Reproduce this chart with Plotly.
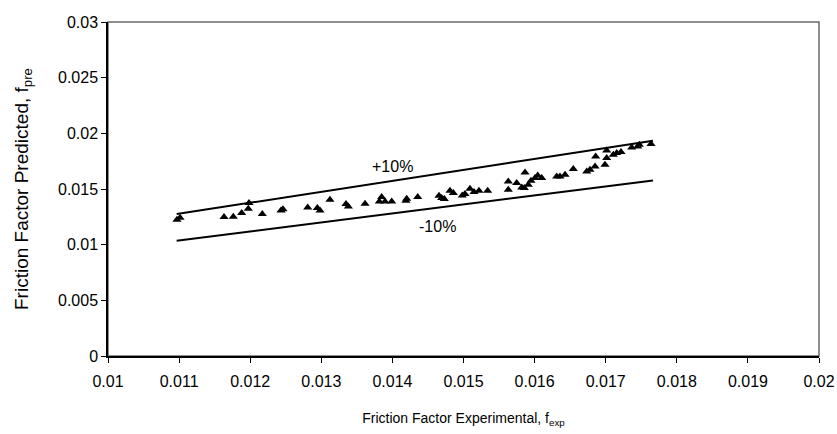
import plotly.graph_objects as go

# Measured vs. predicted friction factor
f_exp = [
    0.010970, 0.011013, 0.011632, 0.011762, 0.011880, 0.011973, 0.011983,
    0.012170, 0.012433, 0.012461, 0.012809, 0.012944, 0.012982, 0.013122,
    0.013347, 0.013380, 0.013615, 0.013816, 0.013849, 0.013896, 0.013990,
    0.014191, 0.014201, 0.014356, 0.014655, 0.014693, 0.014730, 0.014810,
    0.014857, 0.014983, 0.015021, 0.015091, 0.015148, 0.015218, 0.015340,
    0.015630, 0.015630, 0.015748, 0.015819, 0.015865, 0.015855, 0.015911,
    0.016006, 0.016044, 0.016100, 0.015949, 0.016311, 0.016357, 0.016428,
    0.016544, 0.016733, 0.016779, 0.016850, 0.016859, 0.016990, 0.017014,
    0.017014, 0.017107, 0.017155, 0.017215, 0.017366, 0.017450, 0.017473,
    0.017637,
]
f_pre = [
    0.012242, 0.012422, 0.012484, 0.012511, 0.012843, 0.013229, 0.013740,
    0.012753, 0.013076, 0.013184, 0.013345, 0.013291, 0.013076, 0.014036,
    0.013650, 0.013435, 0.013677, 0.013883, 0.014278, 0.013883, 0.013883,
    0.013946, 0.014126, 0.014278, 0.014395, 0.014188, 0.014099, 0.014843,
    0.014637, 0.014422, 0.014547, 0.015022, 0.014726, 0.014843, 0.014843,
    0.015677, 0.014933, 0.015534, 0.015139, 0.016484, 0.015085, 0.015381,
    0.015982, 0.016215, 0.015982, 0.015740, 0.016126, 0.016126, 0.016278,
    0.016789, 0.016574, 0.016726, 0.017022, 0.017919, 0.017175, 0.017776,
    0.018457, 0.018072, 0.018224, 0.018314, 0.018726, 0.018816, 0.018969,
    0.019031,
]

# Error band lines (+10% / -10%)
band_x = [0.010966, 0.017665]
band_upper = [0.012753, 0.019327]
band_lower = [0.010359, 0.015767]

x_ticks = [0.01, 0.011, 0.012, 0.013, 0.014, 0.015, 0.016, 0.017, 0.018, 0.019, 0.02]
x_tick_text = ["0.01", "0.011", "0.012", "0.013", "0.014", "0.015",
               "0.016", "0.017", "0.018", "0.019", "0.02"]
y_ticks = [0, 0.005, 0.01, 0.015, 0.02, 0.025, 0.03]
y_tick_text = ["0", "0.005", "0.01", "0.015", "0.02", "0.025", "0.03"]

FONT = "Liberation Sans, Arial, sans-serif"

fig = go.Figure()
fig.add_trace(go.Scatter(x=band_x, y=band_upper, mode="lines",
                         line=dict(color="black", width=2), showlegend=False))
fig.add_trace(go.Scatter(x=band_x, y=band_lower, mode="lines",
                         line=dict(color="black", width=2), showlegend=False))
fig.add_trace(go.Scatter(x=f_exp, y=f_pre, mode="markers",
                         marker=dict(symbol="triangle-up", size=8, color="black",
                                     line=dict(width=0)),
                         showlegend=False))

fig.add_annotation(x=0.014008, y=0.017, text="+10%", showarrow=False,
                   font=dict(family=FONT, size=16, color="black"))
fig.add_annotation(x=0.014641, y=0.0116, text="-10%", showarrow=False,
                   font=dict(family=FONT, size=16, color="black"))

# Plot-area border (top/right in grey)
fig.add_shape(type="rect", xref="paper", yref="paper", x0=0, y0=0, x1=1, y1=1,
              line=dict(color="#6a6a6a", width=1.5), layer="below")

fig.update_layout(
    width=837, height=434,
    margin=dict(l=108, r=18, t=22, b=78, autoexpand=False),
    paper_bgcolor="white", plot_bgcolor="white",
    font=dict(family=FONT, size=14, color="black"),
    xaxis=dict(
        range=[0.01, 0.02], tickvals=x_ticks, ticktext=x_tick_text,
        showgrid=False, zeroline=False, showline=True, linecolor="black", linewidth=1.5,
        ticks="outside", ticklen=5, tickcolor="black", tickwidth=1,
        tickfont=dict(size=16), ticklabelstandoff=5,
        title=dict(text="Friction Factor Experimental, f<sub>exp</sub>",
                   font=dict(size=14), standoff=24),
    ),
    yaxis=dict(
        range=[0, 0.03], tickvals=y_ticks, ticktext=y_tick_text,
        showgrid=False, zeroline=False, showline=True, linecolor="black", linewidth=1.5,
        ticks="outside", ticklen=5, tickcolor="black", tickwidth=1,
        tickfont=dict(size=16),
        title=dict(text="Friction Factor Predicted, f<sub>pre</sub>",
                   font=dict(size=19), standoff=24),
    ),
)

fig.write_html("out.html")
